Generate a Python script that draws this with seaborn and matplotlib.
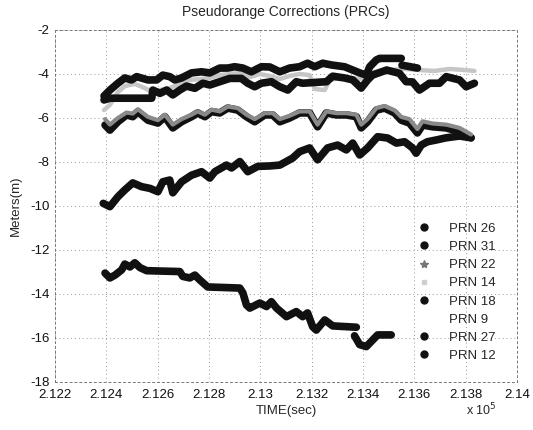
import numpy as np
import pandas as pd
import matplotlib
matplotlib.use("Agg")
import matplotlib.pyplot as plt
from matplotlib.lines import Line2D
import seaborn as sns

# ---------------- data (time in units of 1e5 s, corrections in metres) -------------
prn_labels = ["PRN 26", "PRN 31", "PRN 22", "PRN 14", "PRN 18", "PRN 9", "PRN 27", "PRN 12"]

# PRN 26 (upper black line of the top cluster) -- two segments
prn26_x_a = [2.12391, 2.12414, 2.12445, 2.12472, 2.12498, 2.12518, 2.12562, 2.12596, 2.1262, 2.12647,
             2.12667, 2.12693, 2.12732, 2.12771, 2.12803, 2.12842, 2.12873, 2.129, 2.12932, 2.12965,
             2.13004, 2.13037, 2.13076, 2.13114, 2.13153, 2.13184, 2.13212, 2.13243, 2.13277, 2.13328,
             2.1336, 2.13387, 2.13413, 2.13426, 2.13452, 2.13465, 2.13549]
prn26_y_a = [-5.0, -4.73, -4.42, -4.18, -4.27, -4.12, -4.27, -4.27, -4.05, -4.12,
             -4.27, -4.18, -3.95, -3.9, -3.95, -3.73, -3.73, -3.67, -3.73, -3.9,
             -3.67, -3.68, -3.9, -3.73, -3.67, -3.51, -3.67, -3.51, -3.59, -3.67,
             -3.82, -3.95, -4.05, -3.67, -3.36, -3.29, -3.29]
prn26_x_b = [2.13552, 2.13612]
prn26_y_b = [-3.6, -3.73]

# PRN 31 (lower black line of the top cluster)
prn31_x = [2.12391, 2.12414, 2.12577, 2.12581, 2.12609, 2.12635, 2.12659, 2.12686, 2.12712, 2.12745,
           2.12776, 2.12803, 2.12842, 2.12881, 2.12926, 2.12951, 2.12978, 2.13004, 2.13043, 2.13076,
           2.13107, 2.1314, 2.13165, 2.13258, 2.13282, 2.13328, 2.1336, 2.13393, 2.13418, 2.13437,
           2.13492, 2.13542, 2.13568, 2.13593, 2.1362, 2.13659, 2.13698, 2.13724, 2.13776, 2.13802,
           2.13834]
prn31_y = [-5.18, -5.1, -5.1, -4.73, -4.88, -4.73, -4.95, -4.73, -4.55, -4.65,
           -4.42, -4.5, -4.35, -4.2, -4.2, -4.42, -4.58, -4.42, -4.35, -4.58,
           -4.73, -4.35, -4.42, -4.35, -4.1, -4.18, -4.27, -4.64, -4.27, -4.05,
           -3.82, -3.97, -4.35, -4.36, -4.73, -4.42, -4.42, -4.12, -4.27, -4.58,
           -4.42]

# PRN 22 (grey, almost on top of PRN 18)
prn22_x = [2.12395, 2.12414, 2.12445, 2.12479, 2.12503, 2.12523, 2.12562, 2.12601, 2.12628, 2.12659,
           2.12693, 2.12732, 2.12756, 2.12784, 2.1281, 2.12842, 2.12873, 2.12912, 2.12946, 2.12978,
           2.13017, 2.13048, 2.13076, 2.13114, 2.13153, 2.13192, 2.13223, 2.13257, 2.13296, 2.13335,
           2.13374, 2.13393, 2.13418, 2.13452, 2.13484, 2.13523, 2.13549, 2.13581, 2.13612, 2.13632,
           2.13671, 2.13724, 2.13776, 2.13821]
prn22_y = [-6.05, -6.3, -6.0, -5.75, -5.8, -5.6, -5.95, -6.1, -5.85, -6.3,
           -6.05, -5.85, -5.7, -5.85, -5.62, -5.7, -5.48, -5.55, -5.85, -6.05,
           -5.78, -5.78, -6.05, -5.9, -5.7, -5.7, -6.3, -5.7, -5.78, -5.78,
           -5.85, -6.3, -6.05, -5.55, -5.45, -5.65, -5.95, -6.05, -6.5, -6.15,
           -6.25, -6.3, -6.45, -6.75]

# PRN 14 (light grey, between the two top black lines)
prn14_x = [2.12391, 2.12414, 2.12445, 2.12472, 2.12511, 2.1255, 2.12577, 2.12609, 2.12647, 2.12686,
           2.12725, 2.12764, 2.12803, 2.12842, 2.12881, 2.1292, 2.12959, 2.12998, 2.13037, 2.13076,
           2.13114, 2.13153, 2.13192, 2.13212, 2.13251, 2.1327, 2.13328, 2.13387, 2.13445, 2.13504,
           2.13562, 2.1362, 2.13679, 2.13737, 2.13795, 2.13834]
prn14_y = [-5.64, -5.4, -4.82, -4.55, -4.45, -4.64, -4.82, -4.73, -4.64, -4.45,
           -4.27, -4.23, -4.18, -4.05, -4.0, -3.95, -4.14, -4.0, -4.09, -4.23,
           -4.09, -4.0, -4.05, -4.68, -4.73, -4.27, -4.14, -4.23, -3.91, -3.82,
           -3.77, -3.82, -3.86, -3.77, -3.82, -3.86]

# PRN 18 (black line around -6)
prn18_x = [2.12395, 2.12414, 2.12445, 2.12479, 2.12503, 2.12523, 2.12562, 2.12601, 2.12628, 2.12659,
           2.12693, 2.12732, 2.12756, 2.12784, 2.1281, 2.12842, 2.12873, 2.12912, 2.12946, 2.12978,
           2.13017, 2.13048, 2.13076, 2.13114, 2.13153, 2.13192, 2.13223, 2.13257, 2.13296, 2.13335,
           2.13374, 2.13393, 2.13418, 2.13452, 2.13484, 2.13523, 2.13549, 2.13581, 2.13612, 2.13632,
           2.13671, 2.13724, 2.13776, 2.13821]
prn18_y = [-6.32, -6.55, -6.17, -5.86, -5.94, -5.71, -6.1, -6.23, -5.94, -6.45,
           -6.17, -5.94, -5.77, -5.94, -5.71, -5.77, -5.55, -5.64, -5.94, -6.17,
           -5.86, -5.86, -6.17, -6.0, -5.77, -5.77, -6.4, -5.77, -5.86, -5.86,
           -5.94, -6.45, -6.17, -5.64, -5.55, -5.77, -6.1, -6.23, -6.68, -6.32,
           -6.4, -6.45, -6.62, -6.9]

# PRN 9 (not visible in the printed chart)
prn9_x = []
prn9_y = []

# PRN 27 (black line rising from -10 to -7)
prn27_x = [2.12388, 2.12414, 2.12445, 2.12472, 2.12503, 2.12537, 2.1257, 2.12601, 2.1262, 2.12647,
           2.12659, 2.12693, 2.12732, 2.12771, 2.12803, 2.12823, 2.12868, 2.12888, 2.1292, 2.12951,
           2.1299, 2.13037, 2.13076, 2.13126, 2.13153, 2.13192, 2.13223, 2.13262, 2.13301, 2.13335,
           2.1336, 2.13387, 2.13418, 2.13457, 2.13496, 2.1353, 2.13562, 2.13593, 2.13607, 2.13627,
           2.13651, 2.13685, 2.13724, 2.13776, 2.13821]
prn27_y = [-9.88, -10.03, -9.58, -9.27, -8.95, -9.12, -9.2, -9.35, -8.9, -8.82,
           -9.4, -8.9, -8.6, -8.44, -8.73, -8.44, -8.14, -8.27, -7.98, -8.44,
           -8.2, -8.18, -8.14, -7.82, -7.53, -7.36, -7.9, -7.36, -7.23, -7.45,
           -7.14, -7.68, -7.36, -6.85, -6.91, -7.14, -7.08, -7.36, -7.6, -7.23,
           -7.08, -7.0, -6.9, -6.82, -6.9]

# PRN 12 (bottom line, two segments)
prn12_x_a = [2.12395, 2.12414, 2.12434, 2.1246, 2.12472, 2.12492, 2.12511, 2.12531, 2.12557, 2.12686,
             2.12698, 2.12725, 2.12745, 2.12764, 2.12795, 2.1292, 2.12932, 2.12946, 2.12959, 2.12998,
             2.13024, 2.13043, 2.13063, 2.13102, 2.1314, 2.13165, 2.13184, 2.13204, 2.13218, 2.13251,
             2.13282, 2.13374]
prn12_y_a = [-13.05, -13.27, -13.14, -12.9, -12.64, -12.77, -12.58, -12.8, -12.94, -12.98,
             -13.2, -13.27, -13.14, -13.36, -13.68, -13.73, -13.95, -14.5, -14.64, -14.41,
             -14.57, -14.35, -14.64, -15.03, -14.8, -15.03, -14.86, -15.49, -15.64, -15.18,
             -15.45, -15.51]
prn12_x_b = [2.13367, 2.13387, 2.13413, 2.13437, 2.13457, 2.1351]
prn12_y_b = [-15.9, -16.3, -16.39, -16.1, -15.86, -15.86]

x_ticks = [2.122, 2.124, 2.126, 2.128, 2.13, 2.132, 2.134, 2.136, 2.138, 2.14]
y_ticks = [-2, -4, -6, -8, -10, -12, -14, -16, -18]

# ---------------- build long table -------------------------------------------
rows = []
def add(prn, seg, xs, ys):
    for xv, yv in zip(xs, ys):
        rows.append((prn, f"{prn}-{seg}", xv, yv))

add("PRN 26", "a", prn26_x_a, prn26_y_a)
add("PRN 26", "b", prn26_x_b, prn26_y_b)
add("PRN 31", "a", prn31_x, prn31_y)
add("PRN 22", "a", prn22_x, prn22_y)
add("PRN 14", "a", prn14_x, prn14_y)
add("PRN 18", "a", prn18_x, prn18_y)
add("PRN 9", "a", prn9_x, prn9_y)
add("PRN 27", "a", prn27_x, prn27_y)
add("PRN 12", "a", prn12_x_a, prn12_y_a)
add("PRN 12", "b", prn12_x_b, prn12_y_b)
df = pd.DataFrame(rows, columns=["prn", "seg", "time", "prc"])

# ---------------- styling ------------------------------------------------------
sns.set_style("white")
plt.rcParams["font.family"] = ["Liberation Sans", "DejaVu Sans"]

colors = {"PRN 26": "#111111", "PRN 31": "#111111", "PRN 22": "#8a8a8a", "PRN 14": "#c6c6c6",
          "PRN 18": "#111111", "PRN 9": "#ffffff", "PRN 27": "#111111", "PRN 12": "#111111"}
widths = {"PRN 26": 5.5, "PRN 31": 5.5, "PRN 22": 3.0, "PRN 14": 3.2,
          "PRN 18": 5.5, "PRN 9": 2.0, "PRN 27": 5.5, "PRN 12": 5.5}
zorders = {"PRN 14": 2, "PRN 18": 3, "PRN 22": 4, "PRN 26": 3, "PRN 31": 3,
           "PRN 27": 3, "PRN 12": 3, "PRN 9": 1}

fig = plt.figure(figsize=(5.33, 4.30), dpi=100)
ax = fig.add_axes([55 / 533, 1 - 382 / 430, (517 - 55) / 533, (382 - 30) / 430])

for prn in ["PRN 14", "PRN 26", "PRN 31", "PRN 18", "PRN 22", "PRN 27", "PRN 12"]:
    sub = df[df["prn"] == prn]
    if sub.empty:
        continue
    sns.lineplot(data=sub, x="time", y="prc", units="seg", estimator=None, sort=False,
                 color=colors[prn], linewidth=widths[prn], ax=ax, legend=False,
                 solid_capstyle="round", solid_joinstyle="round", zorder=zorders[prn])

ax.set_xlim(2.122, 2.14)
ax.set_ylim(-18, -2)
ax.set_xticks(x_ticks)
ax.set_xticklabels([f"{t:g}" for t in x_ticks])
ax.set_yticks(y_ticks)
ax.set_yticklabels([f"{t:g}" for t in y_ticks])
ax.tick_params(direction="in", length=3, width=0.6, color="#777777", labelsize=9.5,
               labelcolor="#111111")
ax.tick_params(axis="x", pad=5)
ax.tick_params(axis="y", pad=4)

ax.grid(True, linestyle=(0, (1, 3)), color="#9a9a9a", linewidth=0.7)
for s in ax.spines.values():
    s.set_linestyle((0, (2, 3)))
    s.set_color("#777777")
    s.set_linewidth(0.7)

ax.set_xlabel("TIME(sec)", fontsize=9.5, labelpad=3)
ax.set_ylabel("Meters(m)", fontsize=9.5, labelpad=6)
ax.set_title("Pseudorange Corrections (PRCs)", fontsize=10, pad=10)
fig.text(481 / 533, 1 - 410 / 430, r"x 10$^5$", fontsize=9, ha="center", va="center")

legend_markers = {"PRN 26": ("o", "#111111", 5), "PRN 31": ("o", "#111111", 5),
                  "PRN 22": ("*", "#777777", 6), "PRN 14": ("s", "#cfcfcf", 3.5),
                  "PRN 18": ("o", "#111111", 5), "PRN 9": ("o", "#ffffff", 5),
                  "PRN 27": ("o", "#111111", 5), "PRN 12": ("o", "#111111", 5)}
handles = []
for lab in prn_labels:
    m, c, ms = legend_markers[lab]
    handles.append(Line2D([], [], linestyle="none", marker=m, markersize=ms,
                          markerfacecolor=c, markeredgecolor=c))
fig.legend(handles, prn_labels, loc="upper left", bbox_to_anchor=(411 / 533, 1 - 216 / 430),
           frameon=False, fontsize=9.5, handlelength=1.0, handletextpad=1.4,
           labelspacing=0.45, borderpad=0)

fig.savefig("out.png", dpi=100)
